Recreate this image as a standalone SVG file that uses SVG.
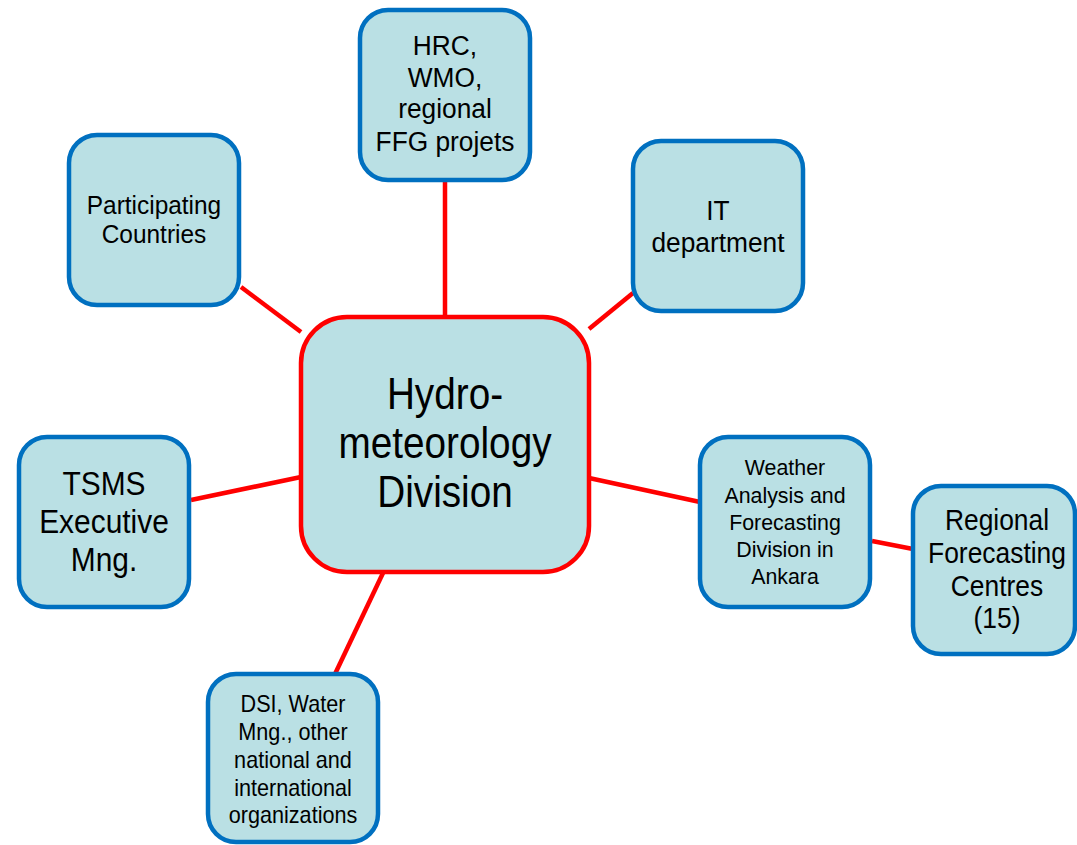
<svg xmlns="http://www.w3.org/2000/svg" width="1077" height="845" viewBox="0 0 1077 845">
<style>
.n rect{fill:#BAE0E4;stroke:#0070C0;stroke-width:4.5}
.c rect{fill:#BAE0E4;stroke:#FF0000;stroke-width:4.5}
text{font-family:"Liberation Sans",Arial,sans-serif;fill:#000;text-anchor:middle}
#connectors line{stroke:#FF0000;stroke-width:4.5}
</style>
<rect width="1077" height="845" fill="#fff"/>
<g id="connectors">
<line x1="445" y1="181" x2="445" y2="317"/>
<line x1="241" y1="287" x2="301" y2="332"/>
<line x1="633" y1="293" x2="589" y2="329"/>
<line x1="191" y1="500" x2="301" y2="477"/>
<line x1="589" y1="478" x2="700" y2="502"/>
<line x1="872" y1="541" x2="913" y2="549"/>
<line x1="383" y1="573" x2="335" y2="674"/>
</g>
<g id="hydro" class="c"><rect x="301" y="317" width="288" height="255" rx="46"/>
<text font-size="44" transform="translate(445 0) scale(0.88 1)"><tspan x="0" y="409">Hydro-</tspan><tspan x="0" y="458">meteorology</tspan><tspan x="0" y="507">Division</tspan></text></g>
<g id="hrc" class="n"><rect x="360" y="10" width="170" height="170" rx="28"/>
<text font-size="28" transform="translate(445 0) scale(0.94 1)"><tspan x="0" y="55">HRC,</tspan><tspan x="0" y="87">WMO,</tspan><tspan x="0" y="118">regional</tspan><tspan x="0" y="151">FFG projets</tspan></text></g>
<g id="participating" class="n"><rect x="69" y="135" width="170" height="170" rx="28"/>
<text font-size="26" transform="translate(154 0) scale(0.94 1)"><tspan x="0" y="214">Participating</tspan><tspan x="0" y="243">Countries</tspan></text></g>
<g id="it" class="n"><rect x="633" y="141" width="170" height="170" rx="28"/>
<text font-size="28" transform="translate(718 0) scale(0.94 1)"><tspan x="0" y="220">IT</tspan><tspan x="0" y="252">department</tspan></text></g>
<g id="tsms" class="n"><rect x="19" y="437" width="170" height="170" rx="28"/>
<text font-size="34" transform="translate(104 0) scale(0.88 1)"><tspan x="0" y="495">TSMS</tspan><tspan x="0" y="533">Executive</tspan><tspan x="0" y="571">Mng.</tspan></text></g>
<g id="weather" class="n"><rect x="700" y="437" width="170" height="170" rx="28"/>
<text font-size="23" transform="translate(785 0) scale(0.93 1)"><tspan x="0" y="475">Weather</tspan><tspan x="0" y="503">Analysis and</tspan><tspan x="0" y="530">Forecasting</tspan><tspan x="0" y="557">Division in</tspan><tspan x="0" y="584">Ankara</tspan></text></g>
<g id="regional" class="n"><rect x="913" y="486" width="162" height="168" rx="28"/>
<text font-size="29" transform="translate(997 0) scale(0.91 1)"><tspan x="0" y="530">Regional</tspan><tspan x="0" y="563">Forecasting</tspan><tspan x="0" y="596">Centres</tspan><tspan x="0" y="628">(15)</tspan></text></g>
<g id="dsi" class="n"><rect x="208" y="674" width="170" height="168" rx="28"/>
<text font-size="23" transform="translate(293 0) scale(0.94 1)"><tspan x="0" y="712">DSI, Water</tspan><tspan x="0" y="740">Mng., other</tspan><tspan x="0" y="768">national and</tspan><tspan x="0" y="796">international</tspan><tspan x="0" y="823">organizations</tspan></text></g>
</svg>
